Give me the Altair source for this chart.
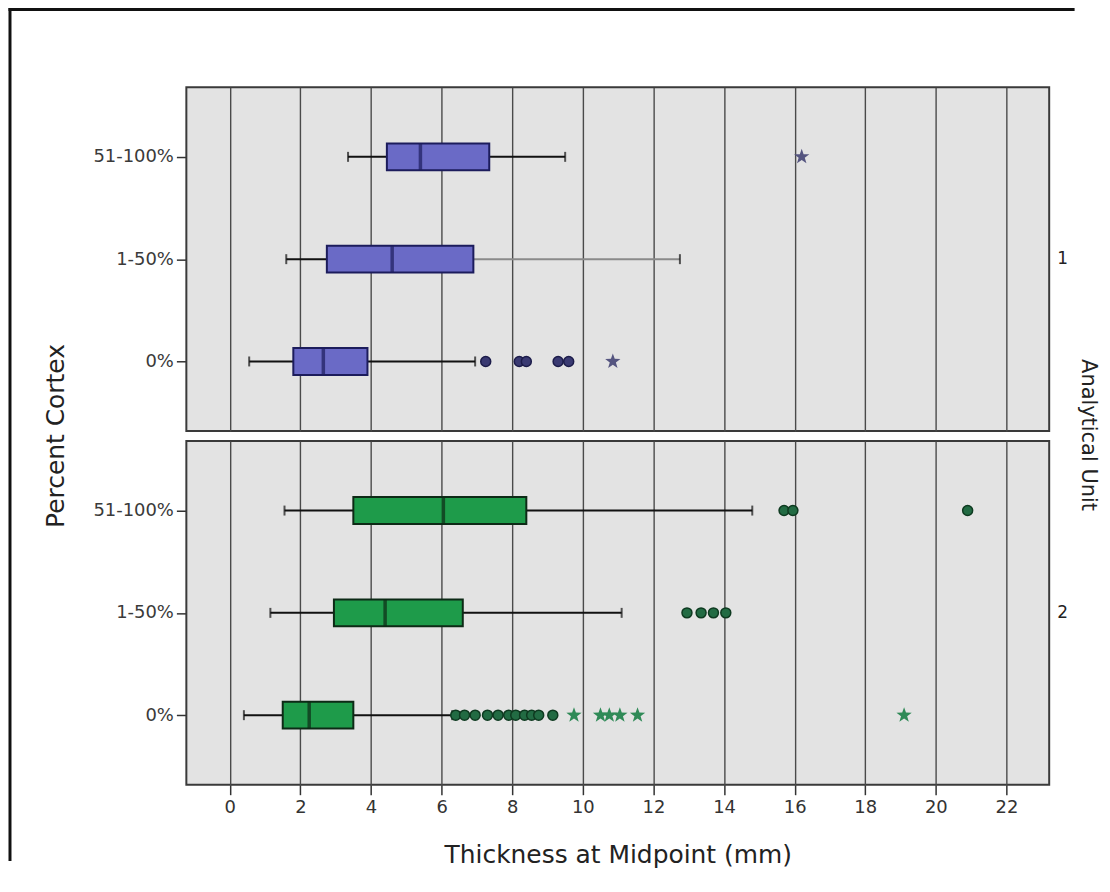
import altair as alt
import pandas as pd

# ---- box summaries ----
box_unit = [1, 1, 1, 2, 2, 2]
box_cat = ["51-100%", "1-50%", "0%", "51-100%", "1-50%", "0%"]
box_lo = [3.35, 1.6, 0.55, 1.55, 1.15, 0.4]
box_q1 = [4.45, 2.75, 1.8, 3.5, 2.95, 1.5]
box_med = [5.4, 4.6, 2.65, 6.05, 4.4, 2.25]
box_q3 = [7.35, 6.9, 3.9, 8.4, 6.6, 3.5]
box_hi = [9.5, 12.75, 6.95, 14.8, 11.1, 6.3]

# ---- outliers ----
out_unit = ([1] + [1] * 6 + [2] * 3 + [2] * 4 + [2] * 17)
out_cat = (["51-100%"] + ["0%"] * 6 + ["51-100%"] * 3 + ["1-50%"] * 4 + ["0%"] * 17)
out_val = ([16.2]
           + [7.25, 8.2, 8.4, 9.3, 9.6, 10.85]
           + [15.7, 15.95, 20.9]
           + [12.95, 13.35, 13.7, 14.05]
           + [6.4, 6.65, 6.95, 7.3, 7.6, 7.9, 8.1, 8.35, 8.55, 8.75, 9.15,
              9.75, 10.5, 10.75, 11.05, 11.55, 19.1])
out_kind = (["star"]
            + ["circle"] * 5 + ["star"]
            + ["circle"] * 3
            + ["circle"] * 4
            + ["circle"] * 11 + ["star"] * 6)

categories = ["51-100%", "1-50%", "0%"]
x_ticks = list(range(0, 23, 2))

boxes = pd.DataFrame({"unit": box_unit, "cat": box_cat, "lo": box_lo, "q1": box_q1,
                      "med": box_med, "q3": box_q3, "hi": box_hi, "kind": "box"})
outs = pd.DataFrame({"unit": out_unit, "cat": out_cat, "value": out_val, "kind": out_kind})
df = pd.concat([boxes, outs], ignore_index=True)

FONT = "DejaVu Sans"
BLUE = "#6A6AC6"
GREEN = "#1E9B4A"
STAR = ("M0,-1L0.235,-0.324L0.951,-0.309L0.380,0.124L0.588,0.809L0,0.4"
        "L-0.588,0.809L-0.380,0.124L-0.951,-0.309L-0.235,-0.324Z")

xscale = alt.Scale(domain=[-1.23, 23.21], nice=False, zero=False)
yenc = alt.Y("cat:N", sort=categories, title=None,
             scale=alt.Scale(type="point", padding=0.68),
             axis=alt.Axis(labelFont=FONT, labelFontSize=18, labelColor="#3a3a3a",
                           tickSize=10, tickColor="#333333", tickWidth=1.5,
                           labelPadding=3, domain=False, grid=False))
xaxis = alt.Axis(values=x_ticks, labelFont=FONT, labelFontSize=18, labelColor="#333333",
                 tickSize=10, tickColor="#333333", tickWidth=1.5, labelPadding=4,
                 domain=False, grid=True, gridColor="#4a4a4a", gridWidth=1.4,
                 titleFont=FONT, titleFontSize=25, titleFontWeight="normal",
                 titleColor="#222222", titlePadding=26)

fill_cond = alt.condition("datum.unit == 1", alt.value(BLUE), alt.value(GREEN))
edge_cond = alt.condition("datum.unit == 1", alt.value("#1c1c5c"), alt.value("#0d2a16"))

base = alt.Chart()
bx = base.transform_filter("datum.kind == 'box'")
one = base.transform_filter("datum.kind == 'box' && datum.unit == 1 && datum.cat == '0%'")

low_whisk = bx.mark_rule(strokeWidth=2, color="#111111").encode(
    x=alt.X("lo:Q", scale=xscale, axis=xaxis, title="Thickness at Midpoint (mm)"),
    x2="q1:Q", y=yenc)
up_whisk = bx.mark_rule(strokeWidth=2).encode(
    x="q3:Q", x2="hi:Q", y=yenc,
    color=alt.condition("datum.unit == 1 && datum.cat == '1-50%'",
                        alt.value("#8a8a8a"), alt.value("#111111")))
cap_lo = bx.mark_tick(size=10, thickness=2, color="#111111").encode(x="lo:Q", y=yenc)
cap_hi = bx.mark_tick(size=10, thickness=2, color="#111111").encode(x="hi:Q", y=yenc)
box = bx.mark_bar(size=27, strokeWidth=2).encode(
    x="q1:Q", x2="q3:Q", y=yenc, fill=fill_cond, stroke=edge_cond)
median = bx.mark_tick(size=27, thickness=3.5).encode(
    x="med:Q", y=yenc, color=edge_cond)

circ = base.transform_filter("datum.kind == 'circle'").mark_point(
    shape="circle", filled=True, size=100, strokeWidth=1.5, opacity=1).encode(
    x="value:Q", y=yenc,
    fill=alt.condition("datum.unit == 1", alt.value("#3a3a72"), alt.value("#226b43")),
    stroke=alt.condition("datum.unit == 1", alt.value("#1c1c4a"), alt.value("#0e3a20")))
star = base.transform_filter("datum.kind == 'star'").mark_point(
    shape=STAR, filled=True, size=260, opacity=1).encode(
    x="value:Q", y=yenc,
    fill=alt.condition("datum.unit == 1", alt.value("#555580"), alt.value("#2f8a57")))

# shared y-axis title, drawn once between the two panels
ytitle = one.mark_text(text="Percent Cortex", angle=270, font=FONT, fontSize=25,
                       color="#222222", align="center", baseline="middle").encode(
    x=alt.value(-131), y=alt.value(350))
# black picture frame (top and left edges)
frame_left = one.mark_rule(strokeWidth=3, color="#111111", strokeCap="square").encode(
    x=alt.value(-177), y=alt.value(-78), y2=alt.value(775))
frame_top = one.mark_rule(strokeWidth=3, color="#111111", strokeCap="square").encode(
    x=alt.value(-177), x2=alt.value(890), y=alt.value(-78))

layered = alt.layer(low_whisk, up_whisk, cap_lo, cap_hi, box, median, circ, star,
                    ytitle, frame_left, frame_top
                    ).properties(width=866, height=345)

chart = layered.facet(
    data=df,
    row=alt.Row("unit:N", title="Analytical Unit",
                header=alt.Header(labelOrient="right", titleOrient="right",
                                  labelAngle=0, titleAngle=90,
                                  labelFont=FONT, labelFontSize=17, labelColor="#222222",
                                  labelPadding=8,
                                  titleFont=FONT, titleFontSize=21,
                                  titleFontWeight="normal", titleColor="#222222",
                                  titlePadding=0)),
    spacing=10,
).properties(
    bounds="flush",
    padding={"left": -2, "top": -4, "right": 3, "bottom": 0},
    background="white",
).configure_view(
    fill="#E3E3E3", stroke="#3a3a3a", strokeWidth=2
)

chart.save("out.html", embed_options={"renderer": "svg", "actions": False})
